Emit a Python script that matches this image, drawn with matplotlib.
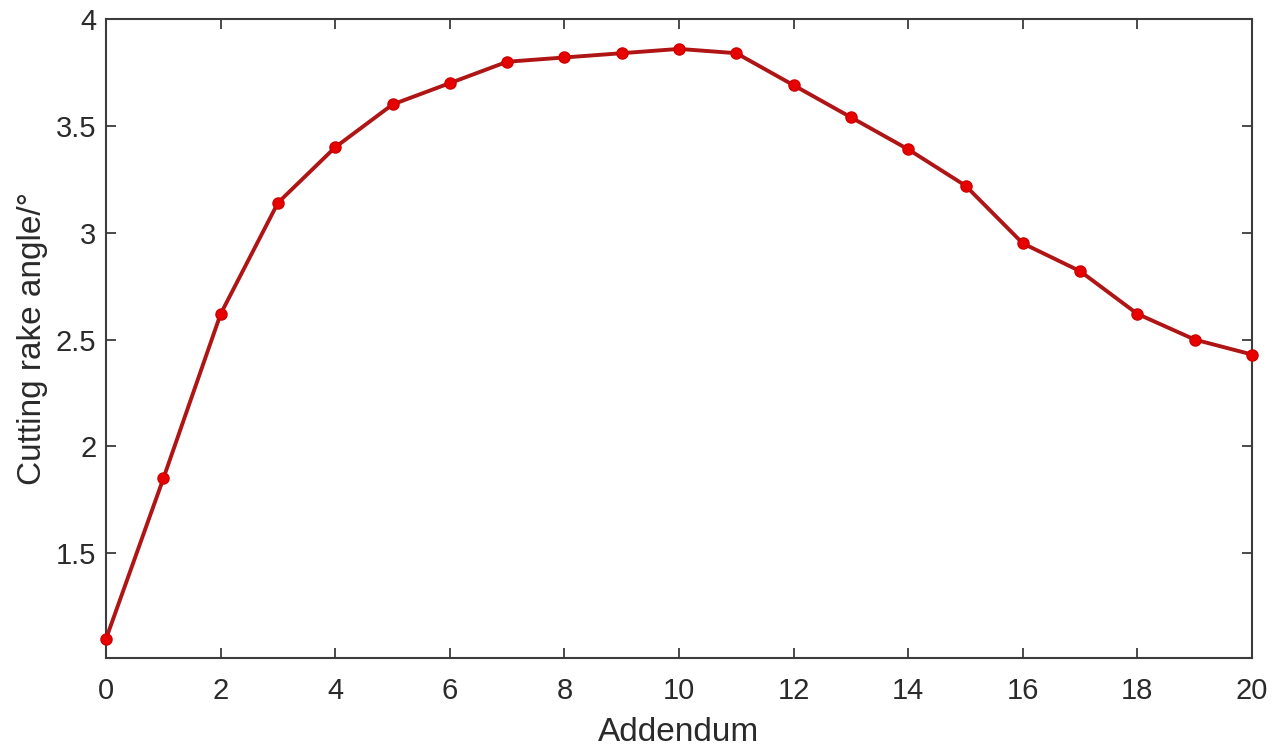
import matplotlib
matplotlib.use('Agg')
import matplotlib.pyplot as plt

# data
addendum = [0, 1, 2, 3, 4, 5, 6, 7, 8, 9, 10, 11, 12, 13, 14, 15, 16, 17, 18, 19, 20]
rake_angle = [1.10, 1.85, 2.62, 3.14, 3.40, 3.60, 3.70, 3.80, 3.82, 3.84, 3.86,
              3.84, 3.69, 3.54, 3.39, 3.22, 2.95, 2.82, 2.62, 2.50, 2.43]
x_ticks = [0, 2, 4, 6, 8, 10, 12, 14, 16, 18, 20]
y_ticks = [1.5, 2, 2.5, 3, 3.5, 4]
y_tick_labels = ['1.5', '2', '2.5', '3', '3.5', '4']

plt.rcParams['font.family'] = ['Liberation Sans', 'DejaVu Sans']

fig = plt.figure(figsize=(12.84, 7.48), dpi=100)
ax = fig.add_axes([0.0826, 0.1203, 0.8925, 0.8543])

ax.plot(addendum, rake_angle, color='#B01515', linewidth=2.8,
        marker='o', markersize=8, markerfacecolor='#E60000',
        markeredgecolor='#D00000', clip_on=False, zorder=3)

ax.set_xlim(0, 20)
ax.set_ylim(1.01, 4)
ax.set_xticks(x_ticks)
ax.set_yticks(y_ticks)
ax.set_yticklabels(y_tick_labels)

axis_col = '#3c3c3c'
for s in ax.spines.values():
    s.set_color(axis_col)
    s.set_linewidth(1.5)
ax.tick_params(direction='in', length=7, width=1.3, colors=axis_col,
               top=True, right=True, labelsize=21)
ax.tick_params(axis='x', pad=14)
ax.tick_params(axis='y', pad=7)
for lab in ax.get_xticklabels() + ax.get_yticklabels():
    lab.set_color('#2a2a2a')

ax.set_xlabel('Addendum', fontsize=24, color='#2a2a2a', labelpad=8)
ax.set_ylabel('Cutting rake angle/°', fontsize=24, color='#2a2a2a', labelpad=6)

fig.savefig('out.png', dpi=100, facecolor='white')
